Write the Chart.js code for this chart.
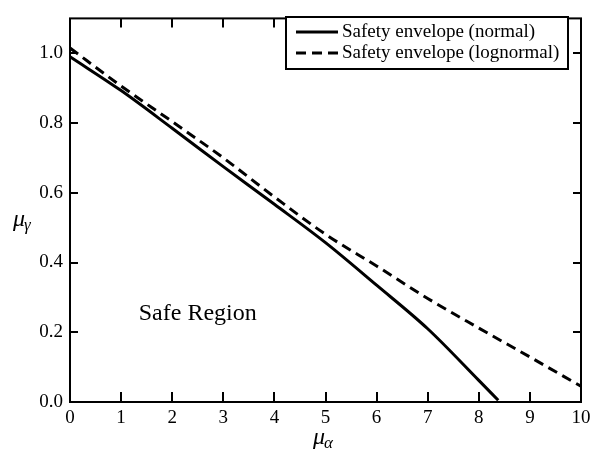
<!DOCTYPE html>
<html>
<head>
<meta charset="utf-8">
<script src="https://cdn.jsdelivr.net/npm/chart.js@4.4.1/dist/chart.umd.min.js"></script>
<style>
  html, body { margin: 0; padding: 0; background: #fff; }
  #wrap { width: 596px; height: 457px; position: relative; }
</style>
</head>
<body>
<div id="wrap"><canvas id="c"></canvas></div>
<script>
// Safety envelope: mean of gamma vs. mean of alpha
const muAlphaNormal = [0, 1, 2, 3, 4, 5, 6, 7, 8, 8.38];
const envelopeNormal = [0.99, 0.893, 0.785, 0.675, 0.567, 0.457, 0.335, 0.21, 0.062, 0.005];

const muAlphaLognormal = [0, 1, 2, 3, 4, 5, 6, 7, 8, 9, 10];
const envelopeLognormal = [1.015, 0.906, 0.804, 0.70, 0.588, 0.481, 0.39, 0.297, 0.212, 0.129, 0.045];

const seriesNames = ['Safety envelope (normal)', 'Safety envelope (lognormal)'];
const xTickValues = [0, 1, 2, 3, 4, 5, 6, 7, 8, 9, 10];
const yTickValues = [0, 0.2, 0.4, 0.6, 0.8, 1.0];
const regionLabel = 'Safe Region';

const SERIF = '"Liberation Serif", "DejaVu Serif", serif';

function toPoints(xs, ys) {
  return xs.map((x, i) => ({ x: x, y: ys[i] }));
}

// Frame, inward ticks on all four sides, legend box, axis symbols and region label
const decorations = {
  id: 'decorations',
  afterDraw(chart) {
    const ctx = chart.ctx;
    const a = chart.chartArea;
    const xs = chart.scales.x, ys = chart.scales.y;
    ctx.save();
    ctx.strokeStyle = '#000';
    ctx.lineWidth = 2;
    ctx.lineCap = 'butt';
    ctx.strokeRect(a.left, a.top, a.right - a.left, a.bottom - a.top);

    ctx.beginPath();
    xTickValues.forEach(v => {
      const px = Math.round(xs.getPixelForValue(v));
      if (v === xs.min || v === xs.max) return;
      ctx.moveTo(px, a.bottom); ctx.lineTo(px, a.bottom - 10);
      ctx.moveTo(px, a.top); ctx.lineTo(px, a.top + 9);
    });
    yTickValues.forEach(v => {
      const py = Math.round(ys.getPixelForValue(v));
      if (v === ys.min) return;
      ctx.moveTo(a.left, py); ctx.lineTo(a.left + 8, py);
      ctx.moveTo(a.right, py); ctx.lineTo(a.right - 8, py);
    });
    ctx.stroke();

    // legend
    const lx = 286, ly = 17, lw = 282, lh = 52;
    ctx.fillStyle = '#fff';
    ctx.fillRect(lx, ly, lw, lh);
    ctx.lineWidth = 2;
    ctx.strokeRect(lx, ly, lw, lh);
    const rows = [32, 53];
    chart.data.datasets.forEach((ds, i) => {
      ctx.beginPath();
      ctx.lineWidth = ds.borderWidth;
      ctx.setLineDash(ds.borderDash || []);
      ctx.moveTo(296, rows[i]);
      ctx.lineTo(338, rows[i]);
      ctx.stroke();
      ctx.setLineDash([]);
      ctx.fillStyle = '#000';
      ctx.font = '19px ' + SERIF;
      ctx.textAlign = 'left';
      ctx.textBaseline = 'middle';
      ctx.fillText(ds.label, 342, rows[i]);
    });

    // region label
    ctx.font = '24px ' + SERIF;
    ctx.textAlign = 'center';
    ctx.textBaseline = 'alphabetic';
    ctx.fillText(regionLabel, xs.getPixelForValue(2.5), 320);

    // axis symbols
    function symbol(base, sub, x, y) {
      ctx.font = 'italic 24px ' + SERIF;
      ctx.textAlign = 'left';
      ctx.textBaseline = 'alphabetic';
      ctx.fillText(base, x, y);
      const w = ctx.measureText(base).width;
      ctx.font = 'italic 17px ' + SERIF;
      ctx.fillText(sub, x + w - 1, y + 4);
    }
    symbol('\u03BC', '\u03B1', 313, 444);
    symbol('\u03BC', '\u03B3', 13, 226);
    ctx.restore();
  }
};

const ctx = document.getElementById('c').getContext('2d');
new Chart(ctx, {
  type: 'line',
  data: {
    datasets: [
      {
        label: seriesNames[0],
        data: toPoints(muAlphaNormal, envelopeNormal),
        borderColor: '#000',
        borderWidth: 3,
        pointRadius: 0,
        cubicInterpolationMode: 'monotone',
        fill: false
      },
      {
        label: seriesNames[1],
        data: toPoints(muAlphaLognormal, envelopeLognormal),
        borderColor: '#000',
        borderWidth: 3,
        borderDash: [10, 6],
        pointRadius: 0,
        cubicInterpolationMode: 'monotone',
        fill: false
      }
    ]
  },
  options: {
    responsive: true,
    maintainAspectRatio: false,
    animation: false,
    devicePixelRatio: 1,
    layout: { padding: { left: 0, top: 7, right: 15, bottom: 0 } },
    plugins: { legend: { display: false }, tooltip: { enabled: false } },
    scales: {
      x: {
        type: 'linear',
        min: 0, max: 10,
        border: { display: false },
        grid: { display: false, drawTicks: false },
        afterBuildTicks(scale) { scale.ticks = xTickValues.map(v => ({ value: v })); },
        afterFit(scale) { scale.height = 55; },
        ticks: {
          color: '#000',
          font: { family: SERIF, size: 19 },
          padding: 5,
          maxRotation: 0,
          autoSkip: false,
          callback: v => String(v)
        }
      },
      y: {
        type: 'linear',
        min: 0, max: 1.1,
        border: { display: false },
        grid: { display: false, drawTicks: false },
        afterBuildTicks(scale) { scale.ticks = yTickValues.map(v => ({ value: v })); },
        afterFit(scale) { scale.width = 70; },
        ticks: {
          color: '#000',
          font: { family: SERIF, size: 19 },
          padding: 7,
          autoSkip: false,
          callback: v => Number(v).toFixed(1)
        }
      }
    }
  },
  plugins: [decorations]
});
</script>
</body>
</html>
